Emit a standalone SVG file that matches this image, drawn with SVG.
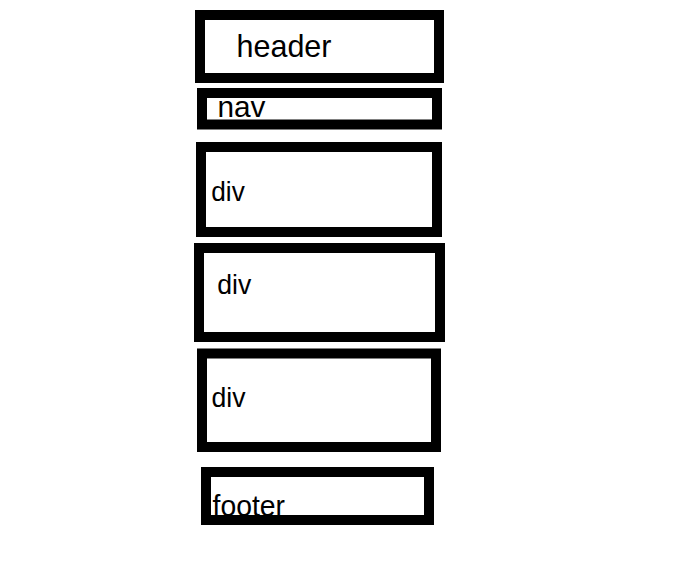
<svg xmlns="http://www.w3.org/2000/svg" width="696" height="564" viewBox="0 0 696 564">
<style>
.box{fill:#fff;stroke:#000;stroke-width:10}
.lbl{font-family:"Liberation Sans",Arial,sans-serif;fill:#000}
</style>
<rect width="696" height="564" fill="#fff"/>
<g id="header">
<rect class="box" x="200" y="15" width="239" height="63"/>
<text class="lbl" x="236.5" y="57" font-size="32" textLength="95" lengthAdjust="spacingAndGlyphs">header</text>
</g>
<g id="nav">
<rect class="box" x="202" y="93" width="235" height="31.5"/>
<text class="lbl" x="217.5" y="117" font-size="30" textLength="48" lengthAdjust="spacingAndGlyphs">nav</text>
</g>
<g id="div1">
<rect class="box" x="201" y="147" width="236" height="85"/>
<text class="lbl" x="211.3" y="200.7" font-size="27" textLength="33.5" lengthAdjust="spacingAndGlyphs">div</text>
</g>
<g id="div2">
<rect class="box" x="199" y="248" width="241" height="89"/>
<text class="lbl" x="217.3" y="293.5" font-size="27" textLength="34" lengthAdjust="spacingAndGlyphs">div</text>
</g>
<g id="div3">
<rect class="box" x="202" y="353.5" width="234" height="93.5"/>
<text class="lbl" x="211.5" y="406.7" font-size="27" textLength="34" lengthAdjust="spacingAndGlyphs">div</text>
</g>
<g id="footer">
<rect class="box" x="206" y="472" width="223" height="48"/>
<text class="lbl" x="212.5" y="515.7" font-size="29" textLength="72.5" lengthAdjust="spacingAndGlyphs">footer</text>
</g>
<g id="connectors"></g>
</svg>
